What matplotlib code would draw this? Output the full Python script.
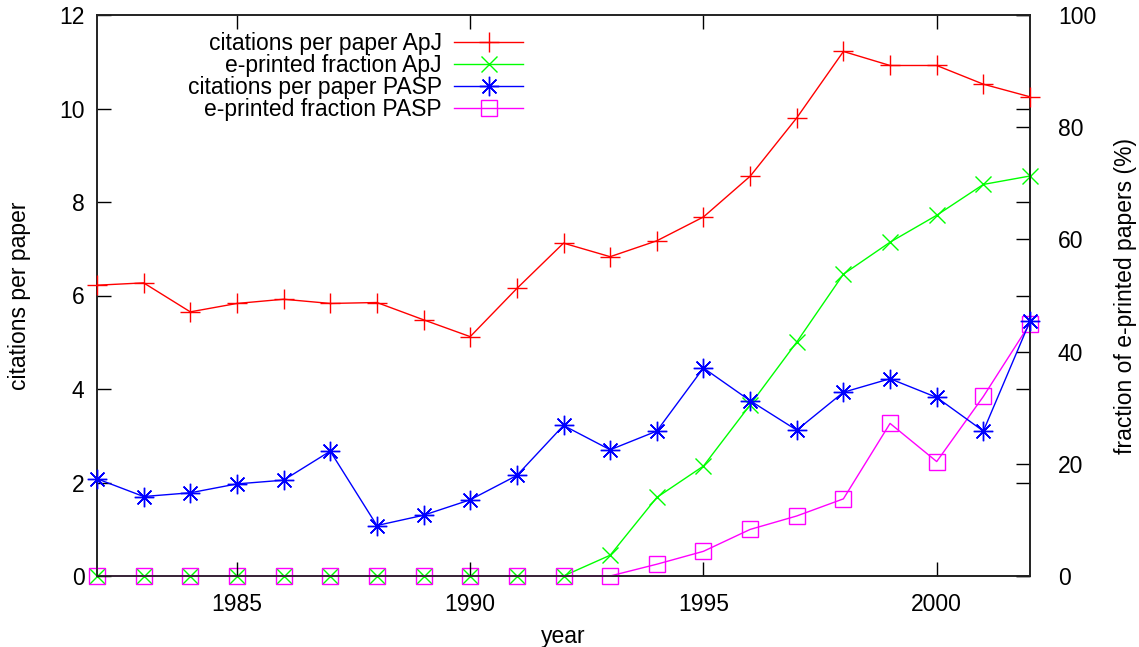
import matplotlib
matplotlib.use("Agg")
import matplotlib.pyplot as plt
from matplotlib.ticker import FixedLocator

years = list(range(1982, 2003))
cit_apj = [6.22, 6.27, 5.65, 5.83, 5.92, 5.83, 5.85, 5.48, 5.12, 6.15, 7.12,
           6.83, 7.17, 7.68, 8.55, 9.80, 11.22, 10.92, 10.92, 10.52, 10.25]
frac_apj = [0, 0, 0, 0, 0, 0, 0, 0, 0, 0, 0,
            3.7, 14.0, 19.6, 30.5, 41.7, 53.8, 59.5, 64.3, 69.8, 71.3]
cit_pasp = [2.08, 1.70, 1.78, 1.97, 2.05, 2.67, 1.08, 1.30, 1.63, 2.15, 3.22,
            2.70, 3.10, 4.45, 3.75, 3.12, 3.93, 4.22, 3.82, 3.10, 5.45]
frac_pasp = [0, 0, 0, 0, 0, 0, 0, 0, 0, 0, 0,
             0, 2.1, 4.4, 8.3, 10.7, 13.75, 27.2, 20.4, 32.0, 45.0]

labels = ["citations per paper ApJ", "e-printed fraction ApJ",
          "citations per paper PASP", "e-printed fraction PASP"]
xticks = [1985, 1990, 1995, 2000]
y1ticks = [0, 2, 4, 6, 8, 10, 12]
y2ticks = [0, 20, 40, 60, 80, 100]

plt.rcParams['font.family'] = ['Liberation Sans', 'DejaVu Sans']
FS = 16.5

W, H = 1139, 647
L, R, T, B = 97, 1030, 15, 576
fig = plt.figure(figsize=(W/100, H/100), dpi=100)
ax = fig.add_axes([L/W, 1 - B/H, (R-L)/W, (B-T)/H])
ax2 = ax.twinx()

lw = 1.0
h1, = ax.plot(years, cit_apj, color='#ff0000', lw=lw, marker='+', ms=14, mew=1.0, clip_on=False, zorder=5)
h3, = ax.plot(years, cit_pasp, color='#0000ff', lw=lw, marker=(8, 2, 0), ms=14, mew=1.0, clip_on=False, zorder=5)
h2, = ax2.plot(years, frac_apj, color='#00ff00', lw=lw, marker='x', ms=11, mew=1.0, clip_on=False, zorder=5)
h4, = ax2.plot(years, frac_pasp, color='#ff00ff', lw=lw, marker='s', ms=12, mew=1.0, mfc='none', clip_on=False, zorder=5)

ax.set_xlim(1982, 2002)
ax.set_ylim(0, 12)
ax2.set_ylim(0, 100)
ax.xaxis.set_major_locator(FixedLocator(xticks))
ax.yaxis.set_major_locator(FixedLocator(y1ticks))
ax2.yaxis.set_major_locator(FixedLocator(y2ticks))

ax.tick_params(axis='x', direction='in', length=10, width=1, top=True, labelsize=FS, pad=12)
ax.tick_params(axis='y', direction='in', length=10, width=1, right=True, labelsize=FS, pad=9)
ax2.tick_params(axis='y', direction='in', length=10, width=1, labelsize=FS, pad=20)

for a in (ax, ax2):
    for s in a.spines.values():
        s.set_color('#222222')
        s.set_linewidth(1.2)

ax.set_xlabel('year', fontsize=FS)
ax.set_ylabel('citations per paper', fontsize=FS)
ax2.set_ylabel('fraction of e-printed papers (%)', fontsize=FS)
ax.xaxis.set_label_coords((563-L)/(R-L), (B-625)/(B-T))
ax.yaxis.set_label_coords((31-L)/(R-L), 0.5)
ax2.yaxis.set_label_coords((1114-L)/(R-L), 0.5)

ax.set_zorder(ax2.get_zorder() + 1)
ax.patch.set_visible(False)

leg = ax.legend([h1, h2, h3, h4], labels, loc='upper right',
                bbox_to_anchor=((523-L)/(R-L), (B-32)/(B-T)),
                frameon=False, markerfirst=False, fontsize=FS,
                handlelength=3.0, handletextpad=0.55, labelspacing=-0.05,
                borderaxespad=0, borderpad=0)

fig.savefig('out.png', dpi=100)
